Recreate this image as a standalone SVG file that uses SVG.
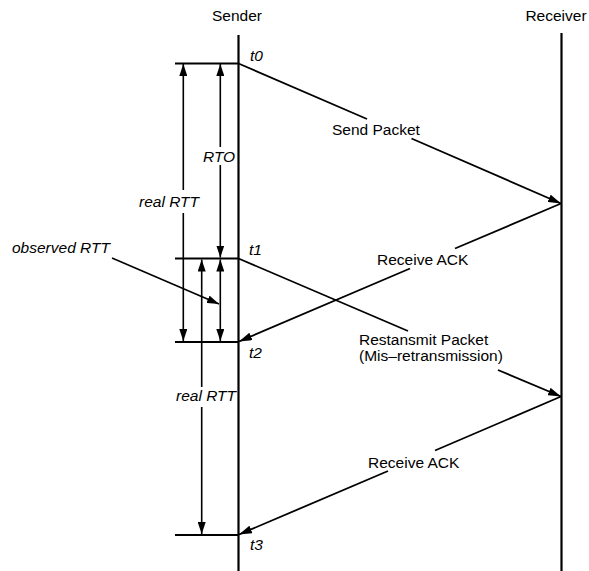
<svg xmlns="http://www.w3.org/2000/svg" width="589" height="571" viewBox="0 0 589 571">
<style>
text{font-family:"Liberation Sans",Arial,sans-serif;font-size:15.5px;fill:#000}
.it{font-style:italic}
.life{stroke:#000;stroke-width:2.2;fill:none}
.tick{stroke:#000;stroke-width:1.8;fill:none}
.dim{stroke:#000;stroke-width:1.6;fill:none;marker-end:url(#ah)}
.msg{stroke:#000;stroke-width:1.8;fill:none}
.msga{stroke:#000;stroke-width:1.8;fill:none;marker-end:url(#am)}
</style>
<defs>
<marker id="ah" markerUnits="userSpaceOnUse" viewBox="0 0 12 8" refX="12" refY="4" markerWidth="12" markerHeight="8" orient="auto"><path d="M0,0 L12,4 L0,8 z" fill="#000"/></marker>
<marker id="am" markerUnits="userSpaceOnUse" viewBox="0 0 13 8" refX="13" refY="4" markerWidth="13" markerHeight="8" orient="auto"><path d="M0,0 L13,4 L0,8 z" fill="#000"/></marker>
</defs>
<rect width="589" height="571" fill="#fff"/>
<g id="sender">
<text x="237" y="21" text-anchor="middle">Sender</text>
<line class="life" x1="238.5" y1="35" x2="238.5" y2="571"/>
</g>
<g id="receiver">
<text x="556" y="21" text-anchor="middle">Receiver</text>
<line class="life" x1="561.5" y1="33" x2="561.5" y2="571" stroke-width="2.6"/>
</g>
<g id="time-marks">
<line class="tick" x1="175" y1="63.5" x2="238" y2="63.5"/>
<line class="tick" x1="175" y1="258.5" x2="238" y2="258.5"/>
<line class="tick" x1="175" y1="342" x2="238" y2="342"/>
<line class="tick" x1="175" y1="535" x2="238" y2="535"/>
<text class="it" x="250" y="61">t0</text>
<text class="it" x="249" y="255">t1</text>
<text class="it" x="249" y="358">t2</text>
<text class="it" x="250" y="550">t3</text>
</g>
<g id="measures">
<path class="dim" d="M183.3,190 V64"/>
<path class="dim" d="M183.3,213 V341"/>
<text class="it" x="139" y="207">real RTT</text>
<path class="dim" d="M220.3,147 V64"/>
<path class="dim" d="M220.3,165 V257.5"/>
<text class="it" x="203" y="162">RTO</text>
<path class="dim" d="M220.3,300 V259.5"/>
<path class="dim" d="M220.3,300 V341"/>
<path class="dim" d="M201.7,387 V259.5"/>
<path class="dim" d="M201.7,407 V534"/>
<text class="it" x="176" y="401">real RTT</text>
<text class="it" x="12" y="253">observed RTT</text>
<path class="dim" d="M112,258 L219,304"/>
</g>
<g id="connectors">
<path class="msg" d="M238.5,63.5 L367,119"/>
<path class="msga" d="M411.5,138.5 L561,203.5"/>
<text x="332" y="135">Send Packet</text>
<path class="msg" d="M561,203.5 L455,248.5"/>
<path class="msga" d="M410,268.5 L239,341.5"/>
<text x="377" y="265">Receive ACK</text>
<path class="msg" d="M238.5,258.5 L408,331"/>
<path class="msga" d="M498,370 L561,396.5"/>
<text x="359" y="345">Restansmit Packet</text>
<text x="359" y="361">(Mis–retransmission)</text>
<path class="msg" d="M561,396.5 L435,450.5"/>
<path class="msga" d="M388,471 L239,534.5"/>
<text x="368" y="468">Receive ACK</text>
</g>
</svg>
